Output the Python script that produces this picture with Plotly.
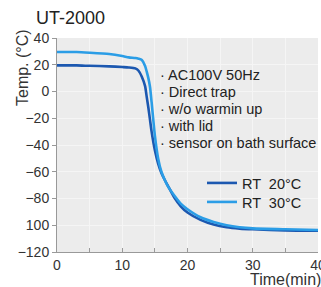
import plotly.graph_objects as go

time_min = [0, 3, 5, 8, 10, 11, 12, 12.5, 13, 13.5, 13.75, 14, 14.25, 14.5, 15, 15.5, 16, 16.5, 17, 18, 19, 20, 22, 24, 26, 28, 30, 35, 40]
rt20 = [19.5, 19.5, 19.2, 18.8, 18.3, 18.0, 17.3, 15.5, 11, 4, -4, -12, -21, -30, -44, -54, -61, -66, -70.5, -79.5, -86, -90.5, -96, -99.5, -101.5, -102.5, -103, -103.8, -104]
rt30 = [29.5, 29.5, 29.0, 28.0, 26.5, 25.5, 25.0, 24.5, 23.6, 19, 14.8, 10, 3.6, -8, -33, -50, -60, -66, -71, -78, -84, -88, -94, -97.5, -100, -101.5, -102.3, -103, -103.5]

series_names = ["RT  20°C", "RT  30°C"]
series_colors = ["#1c58b0", "#2b9de6"]

y_ticks = [40, 20, 0, -20, -40, -60, -80, -100, -120]
y_tick_text = ["40", "20", "0", "−20", "−40", "−60", "−80", "100", "−120"]
x_ticks = [0, 10, 20, 30, 40]

notes = ["AC100V 50Hz", "Direct trap", "w/o warmin up", "with lid", "sensor on bath surface"]

# plot area in pixels (for placing texts)
L, T, W, H = 57, 38, 261, 214
def px(x): return (x - L) / W
def py(y): return 1 - (y - T) / H

fig = go.Figure()
legend_ids = ["legend", "legend2"]
legend_rows = [183, 202]
for name, vals, col, lg in zip(series_names, [rt20, rt30], series_colors, legend_ids):
    fig.add_trace(go.Scatter(x=time_min, y=vals, mode="lines", name=name, legend=lg,
                             line=dict(color=col, width=2.6, shape="spline", smoothing=0.6)))

font_family = "Liberation Sans, Arial, sans-serif"
leg_common = dict(xanchor="left", yanchor="middle", bgcolor="rgba(0,0,0,0)",
                  font=dict(size=14.5, color="#222"), itemwidth=30,
                  borderwidth=0)
fig.update_layout(
    width=321, height=287,
    margin=dict(l=L, r=321 - L - W, t=T, b=287 - T - H, autoexpand=False),
    paper_bgcolor="white",
    plot_bgcolor="#ececec",
    font=dict(family=font_family, color="#333333", size=14),
    showlegend=True,
    legend=dict(x=px(202), y=py(legend_rows[0]), **leg_common),
    legend2=dict(x=px(202), y=py(legend_rows[1]), **leg_common),
    xaxis=dict(range=[0, 40], tickvals=x_ticks, ticks="inside", ticklen=4,
               tickcolor="#999", showline=True, linecolor="#999", linewidth=1,
               showgrid=True, gridcolor="#f5f5f5", gridwidth=1, zeroline=False,
               tickfont=dict(size=14), ticklabeloverflow="allow",
               minor=dict(dtick=5, ticks="inside", ticklen=4, tickcolor="#999", showgrid=True, gridcolor="#f5f5f5")),
    yaxis=dict(range=[-120, 40], tickvals=y_ticks, ticktext=y_tick_text, ticks="outside",
               ticklen=4, tickcolor="#999", showline=True, linecolor="#999", linewidth=1,
               showgrid=True, gridcolor="#f5f5f5", zeroline=False, tickfont=dict(size=14),
               ticklabeloverflow="allow"),
)

fig.add_annotation(text="UT-2000", xref="paper", yref="paper", x=px(34), y=py(18),
                   xanchor="left", yanchor="middle", showarrow=False,
                   font=dict(size=18, color="#222"))
fig.add_annotation(text="Temp. (°C)", xref="paper", yref="paper", x=px(22), y=py(68),
                   xanchor="center", yanchor="middle", textangle=-90, showarrow=False,
                   font=dict(size=16, color="#333"))
fig.add_annotation(text="Time(min)", xref="paper", yref="paper", x=px(323), y=py(279),
                   xanchor="right", yanchor="middle", showarrow=False,
                   font=dict(size=16, color="#333"))
note_rows = [75, 92, 109, 126, 143]
for n, yr in zip(notes, note_rows):
    fig.add_annotation(text="· " + n, xref="paper", yref="paper",
                       x=px(158), y=py(yr), xanchor="left", yanchor="middle", align="left",
                       showarrow=False, font=dict(size=14.5, color="#222"))

fig.write_html("out.html", config={"displayModeBar": False},
               post_script="document.body.style.margin='0';document.body.style.overflow='hidden';")
